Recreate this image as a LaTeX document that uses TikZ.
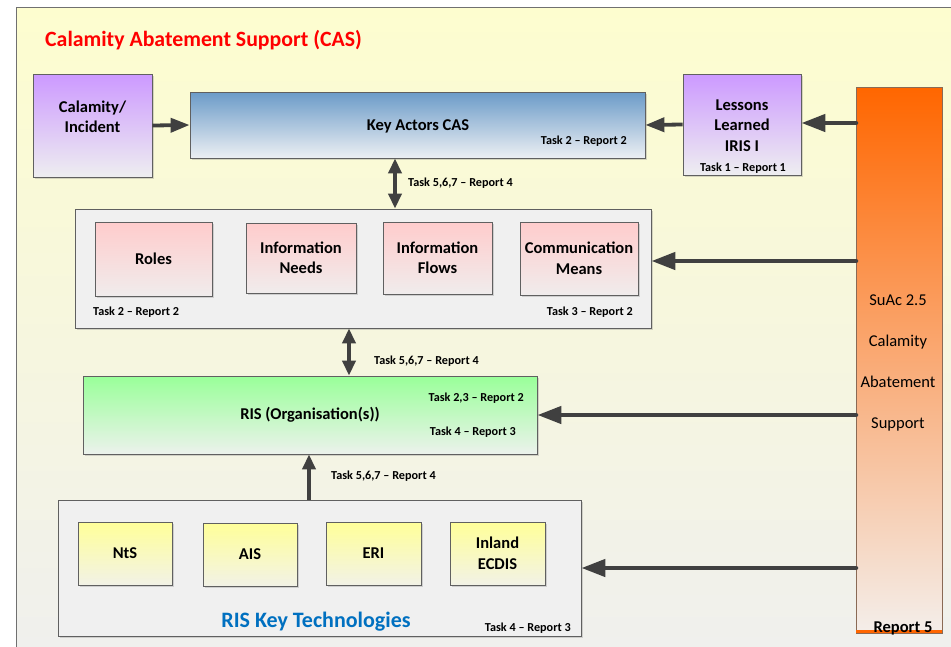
\documentclass[tikz,border=0pt]{standalone}
\usepackage{fontspec}
\setmainfont{Carlito}
\usetikzlibrary{arrows.meta,shadows,calc}
\definecolor{bgtop}{HTML}{FDFDCF}
\definecolor{bgbot}{HTML}{EFEFEF}
\definecolor{framegray}{HTML}{707070}
\definecolor{boxgray}{HTML}{606060}
\definecolor{arrowgray}{HTML}{404040}
\definecolor{purpletop}{HTML}{CC99FF}
\definecolor{purplebot}{HTML}{EEEEF0}
\definecolor{bluetop}{HTML}{6B9BC8}
\definecolor{bluebot}{HTML}{ECEFF3}
\definecolor{pinktop}{HTML}{FFCCCC}
\definecolor{pinkbot}{HTML}{F0ECEC}
\definecolor{greentop}{HTML}{99FF99}
\definecolor{greenbot}{HTML}{ECF2EC}
\definecolor{yellowtop}{HTML}{FFFF99}
\definecolor{yellowbot}{HTML}{F2F2E6}
\definecolor{orangetop}{HTML}{FF6600}
\definecolor{orangebot}{HTML}{F4EEEA}
\definecolor{orangeline}{HTML}{FF6600}
\definecolor{barborder}{HTML}{8A6A55}
\definecolor{groupfill}{HTML}{F0F0F0}
\definecolor{titlered}{HTML}{FF0000}
\definecolor{techblue}{HTML}{0070C0}
\tikzset{
  boxbase/.style={draw=boxgray, line width=0.8pt, inner sep=0pt, align=center,
    font=\bfseries\fontsize{16.5}{20.5}\selectfont},
  shadowed/.style={drop shadow={shadow xshift=2pt,shadow yshift=-2pt,opacity=0.3,fill=black!50}},
  purplebox/.style={boxbase, shadowed, top color=purpletop, bottom color=purplebot},
  bluebox/.style={boxbase, shadowed, top color=bluetop, bottom color=bluebot},
  pinkbox/.style={boxbase, shadowed, top color=pinktop, bottom color=pinkbot},
  greenbox/.style={boxbase, shadowed, top color=greentop, bottom color=greenbot},
  yellowbox/.style={boxbase, shadowed, top color=yellowtop, bottom color=yellowbot},
  groupbox/.style={draw=boxgray, line width=0.8pt, fill=groupfill, inner sep=0pt, shadowed},
  boldtext/.style={font=\bfseries\fontsize{16.5}{20.5}\selectfont, align=center, inner sep=0pt},
  tasklbl/.style={font=\bfseries\fontsize{12.2}{14}\selectfont, inner sep=0pt},
  bigarrow/.style={draw=arrowgray, line width=4.5pt, line cap=round,
    -{Triangle[length=24pt,width=17pt]}},
  smallarrow/.style={draw=arrowgray, line width=3.8pt,
    -{Triangle[length=19pt,width=14pt]}},
  dblarrow/.style={draw=arrowgray, line width=4pt,
    {Triangle[length=15pt,width=13pt]}-{Triangle[length=15pt,width=13pt]}},
  uparrow/.style={draw=arrowgray, line width=4pt,
    -{Triangle[length=15pt,width=13pt]}},
}
\begin{document}
\begin{tikzpicture}[x=1pt,y=-1pt]
\useasboundingbox (0,0) rectangle (951,646);
\clip (0,0) rectangle (951,646);
\fill[white] (0,0) rectangle (951,646);
% background frame
\draw[draw=framegray, line width=0.8pt, top color=bgtop, bottom color=bgbot] (16,7) rectangle (990,690);

% title
\node[anchor=base west, inner sep=0pt, text=titlered, font=\bfseries\fontsize{21.8}{26}\selectfont] (title) at (45,46) {Calamity Abatement Support (CAS)};

% top row
\node[purplebox, minimum width=119pt, minimum height=103pt] (cal) at (92.5,125.5) {};
\node[boldtext] (caltext) at (92.5,117) {Calamity/\\Incident};
\node[bluebox, minimum width=455pt, minimum height=66pt] (ka) at (417.5,125) {};
\node[boldtext] (katext) at (418,126.5) {Key Actors CAS};
\node[tasklbl, anchor=base east] (katask) at (627,144) {Task 2 -- Report 2};
\node[purplebox, minimum width=118pt, minimum height=101pt] (ll) at (742,124.5) {};
\node[boldtext] (lltext) at (742,125.5) {Lessons\\Learned\\IRIS I};
\node[tasklbl, anchor=base] (lltask) at (743,171) {Task 1 -- Report 1};

% orange bar
\node[draw=barborder, line width=0.8pt, top color=orangetop, bottom color=orangebot,
  minimum width=86pt, minimum height=546pt, inner sep=0pt] (bar) at (899,360) {};
\node[align=center, inner sep=0pt, font=\fontsize{16.5}{41}\selectfont] (bartext) at (898,362.5) {SuAc 2.5\\Calamity\\Abatement\\Support};
\draw[draw=orangeline, line width=3pt] ($(bar.south west)+(0.4,-1.5)$) -- ($(bar.south east)+(-0.4,-1.5)$);
\node[anchor=base, inner sep=0pt, font=\bfseries\fontsize{16.5}{20}\selectfont] (rep5) at (903,632) {Report 5};

% group 1
\node[groupbox, minimum width=576pt, minimum height=119pt] (g1) at (363,268.5) {};
\node[pinkbox, minimum width=117pt, minimum height=74pt] (roles) at (153.5,259) {Roles};
\node[pinkbox, minimum width=110pt, minimum height=70pt] (needs) at (301,258) {Information\\Needs};
\node[pinkbox, minimum width=109pt, minimum height=72pt] (flows) at (437.5,258) {Information\\Flows};
\node[pinkbox, minimum width=118pt, minimum height=73pt] (comm) at (579,258.5) {Communication\\Means};
\node[tasklbl, anchor=base west] (g1taska) at (93,315) {Task 2 -- Report 2};
\node[tasklbl, anchor=base east] (g1taskb) at (633,315) {Task 3 -- Report 2};

% RIS organisation
\node[greenbox, minimum width=454pt, minimum height=78pt] (ris) at (310,415) {RIS (Organisation(s))};
\node[tasklbl, anchor=base east] (ristaska) at (524,401) {Task 2,3 -- Report 2};
\node[tasklbl, anchor=base east] (ristaskb) at (516,435) {Task 4 -- Report 3};

% group 2
\node[groupbox, minimum width=523pt, minimum height=136pt] (g2) at (319.5,568) {};
\node[yellowbox, minimum width=94pt, minimum height=63pt] (nts) at (125,553.5) {NtS};
\node[yellowbox, minimum width=94pt, minimum height=63pt] (ais) at (250,554.5) {AIS};
\node[yellowbox, minimum width=95pt, minimum height=63pt] (eri) at (373.5,553.5) {ERI};
\node[yellowbox, minimum width=95pt, minimum height=63pt] (ecdis) at (497.5,553.5) {Inland\\ECDIS};
\node[anchor=base, inner sep=0pt, text=techblue, font=\bfseries\fontsize{22}{26}\selectfont] (techlbl) at (316,627) {RIS Key Technologies};
\node[tasklbl, anchor=base east] (g2task) at (571,631) {Task 4 -- Report 3};

% horizontal arrows
\draw[smallarrow] (cal.east) -- (ka.west);
\draw[smallarrow] (ll.west) -- (ka.east);
\coordinate (o1) at (856,123);
\coordinate (o2) at (856,261);
\coordinate (o3) at (856,415);
\coordinate (o4) at (856,568);
\draw[bigarrow] (o1) -- (o1 -| ll.east);
\draw[bigarrow] (o2) -- (o2 -| g1.east);
\draw[bigarrow] (o3) -- (o3 -| ris.east);
\draw[bigarrow] (o4) -- (o4 -| g2.east);

% vertical arrows
\coordinate (v1) at (395,0);
\coordinate (v2) at (349,0);
\coordinate (v3) at (309,0);
\draw[dblarrow] (v1 |- ka.south) -- (v1 |- g1.north);
\draw[dblarrow] (v2 |- g1.south) -- (v2 |- ris.north);
\draw[uparrow] (v3 |- g2.north) -- (v3 |- ris.south);
\node[tasklbl, anchor=base west] (va) at (408,186.5) {Task 5,6,7 -- Report 4};
\node[tasklbl, anchor=base west] (vb) at (374,364) {Task 5,6,7 -- Report 4};
\node[tasklbl, anchor=base west] (vc) at (331,479) {Task 5,6,7 -- Report 4};
\end{tikzpicture}
\end{document}
